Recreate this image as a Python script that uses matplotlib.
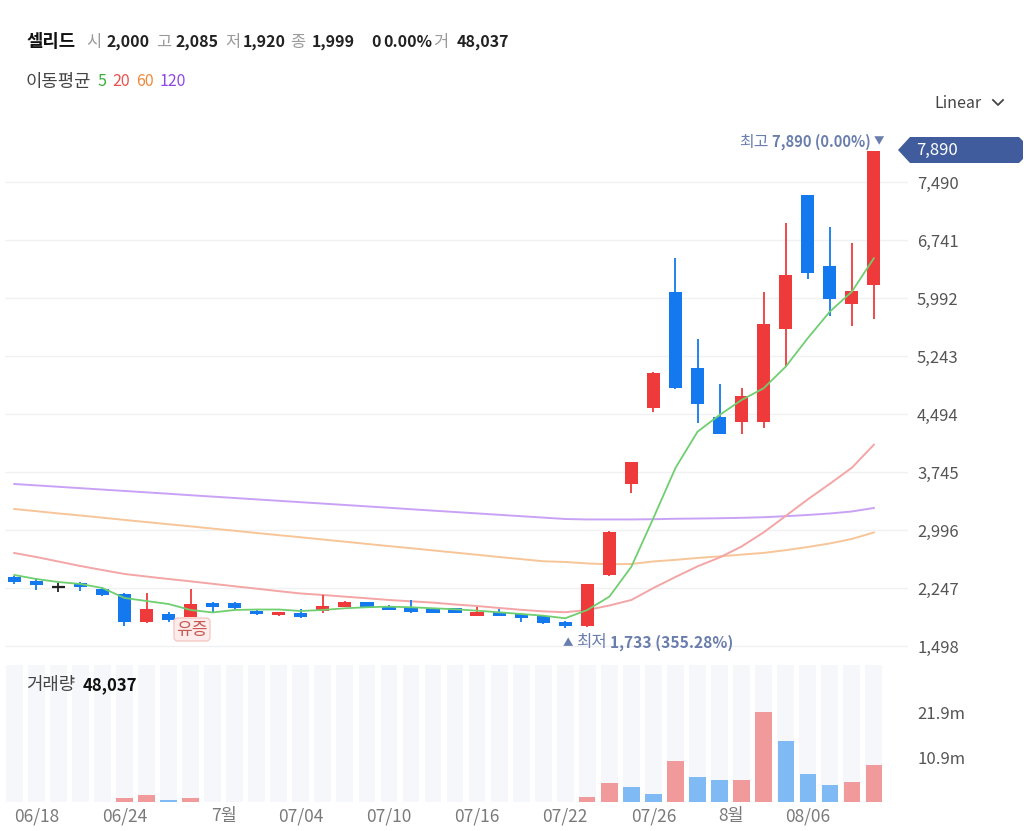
import matplotlib
matplotlib.use('Agg')
import matplotlib.pyplot as plt
from matplotlib.patches import Rectangle, Polygon, FancyBboxPatch

plt.rcParams['font.family'] = ['Noto Sans CJK KR', 'DejaVu Sans']

dates = ['06/17', '06/18', '06/19', '06/20', '06/21', '06/24', '06/25', '06/26', '06/27', '06/28',
         '07/01', '07/02', '07/03', '07/04', '07/05', '07/08', '07/09', '07/10', '07/11', '07/12',
         '07/15', '07/16', '07/17', '07/18', '07/19', '07/22', '07/23', '07/24', '07/25', '07/26',
         '07/29', '07/30', '07/31', '08/01', '08/02', '08/05', '08/06', '08/07', '08/08', '08/09']
opens = [2395, 2340, 2265, 2315, 2235, 2165, 1810, 1905, 1875, 2055, 2055, 1955, 1895, 1930, 1955,
         2005, 2060, 2020, 2005, 1985, 1985, 1885, 1940, 1905, 1885, 1810, 1755, 2415, 3585, 4570,
         6075, 5085, 4450, 4395, 4390, 5590, 7320, 6405, 5920, 6155]
highs = [2400, 2380, 2310, 2318, 2260, 2180, 2185, 1940, 2230, 2060, 2060, 1975, 1940, 1970, 2150,
         2085, 2070, 2025, 2090, 1990, 1990, 2000, 1970, 1910, 1890, 1815, 2300, 2980, 3875, 5030,
         6505, 5460, 4880, 4835, 6075, 6960, 7325, 6910, 6700, 7890]
lows = [2300, 2220, 2195, 2208, 2145, 1755, 1790, 1805, 1870, 1935, 1960, 1895, 1890, 1865, 1925,
        2000, 2000, 1960, 1920, 1920, 1925, 1880, 1880, 1810, 1785, 1733, 1740, 2400, 3480, 4525,
        4815, 4380, 4230, 4235, 4315, 5095, 6235, 5760, 5635, 5725]
closes = [2320, 2285, 2265, 2265, 2150, 1805, 1970, 1835, 2035, 2005, 1985, 1910, 1935, 1875, 2020,
          2060, 2005, 1965, 1940, 1930, 1930, 1940, 1885, 1855, 1790, 1755, 2295, 2975, 3870, 5025,
          4835, 4625, 4235, 4730, 5650, 6290, 6310, 5980, 6080, 7890]
volumes_m = [0.012, 0.010, 0.008, 0.010, 0.012, 0.81, 1.61, 0.35, 0.81, 0.012, 0.010, 0.008, 0.011,
             0.010, 0.012, 0.011, 0.010, 0.008, 0.010, 0.008, 0.011, 0.010, 0.008, 0.010, 0.011,
             0.012, 1.2, 4.47, 3.64, 1.86, 10.0, 5.94, 5.28, 5.30, 21.97, 14.8, 6.75, 4.06, 4.79, 8.87]
ma5 = [2415, 2363, 2324, 2299, 2247, 2118, 2079, 2040, 1963, 1931, 1963, 1969, 1969, 1950, 1963,
       1985, 1998, 2006, 1998, 1985, 1972, 1954, 1933, 1911, 1889, 1856, 1963, 2135, 2522, 3151,
       3797, 4265, 4481, 4675, 4826, 5105, 5472, 5815, 6073, 6505]
ma20 = [2699, 2647, 2589, 2531, 2479, 2428, 2395, 2363, 2333, 2301, 2269, 2238, 2206, 2176, 2157,
        2135, 2114, 2092, 2075, 2058, 2034, 2014, 1989, 1965, 1945, 1934, 1963, 2021, 2092, 2247,
        2389, 2526, 2641, 2783, 2965, 3177, 3391, 3592, 3799, 4097]
ma60 = [3267, 3239, 3210, 3183, 3155, 3126, 3098, 3070, 3043, 3014, 2986, 2957, 2929, 2902, 2873,
        2845, 2816, 2788, 2761, 2732, 2704, 2676, 2647, 2620, 2592, 2583, 2564, 2553, 2557, 2590,
        2610, 2635, 2655, 2678, 2700, 2735, 2776, 2822, 2880, 2964]
ma120 = [3590, 3572, 3554, 3536, 3518, 3500, 3482, 3464, 3445, 3427, 3409, 3391, 3373, 3355, 3337,
         3319, 3301, 3283, 3264, 3246, 3228, 3210, 3192, 3174, 3156, 3138, 3132, 3132, 3132, 3135,
         3141, 3144, 3148, 3153, 3161, 3174, 3190, 3209, 3235, 3280]
price_ticks = [1498, 2247, 2996, 3745, 4494, 5243, 5992, 6741, 7490]
vol_ticks = [10.9, 21.9]
x_tick_pos = [1, 5, 9.5, 13, 17, 21, 25, 29, 32.5, 36]
x_tick_labels = ['06/18', '06/24', '7월', '07/04', '07/10', '07/16', '07/22', '07/26', '8월', '08/06']

RED = '#ef3a3c'
BLUE = '#1479ee'
VRED = '#f09a9b'
VBLUE = '#80baf5'

W, H = 1026, 831
fig = plt.figure(figsize=(W / 100, H / 100), dpi=100)
fig.patch.set_facecolor('white')


def rect(l, t, r, b):
    return [l / W, 1 - b / H, (r - l) / W, (b - t) / H]


ax = fig.add_axes(rect(5, 125, 908, 660))
vax = fig.add_axes(rect(5, 665, 908, 801.6))
n = len(dates)
xs = list(range(n))

for a in (ax, vax):
    for s in a.spines.values():
        s.set_visible(False)
    a.set_xlim(-0.42, 40.55)
    a.set_facecolor('none')

ax.set_ylim(1317, 8226)
vax.set_ylim(0, 33.4)

# grid & ticks
ax.yaxis.tick_right()
ax.set_yticks(price_ticks)
ax.set_yticklabels([f'{v:,}' for v in price_ticks])
ax.tick_params(axis='y', length=0, pad=6.5, labelsize=12, labelcolor='#555555')
ax.set_xticks([])
ax.grid(axis='y', color='#f1f1f3', lw=1)
ax.set_axisbelow(True)

# moving averages
ax.plot(xs, ma120, color='#c9a2f6', lw=1.4, zorder=2)
ax.plot(xs, ma60, color='#f7c598', lw=1.4, zorder=2)
ax.plot(xs, ma20, color='#f4a5a6', lw=1.4, zorder=2)

# candles
bw = 0.60
for i in xs:
    o, h, l, c = opens[i], highs[i], lows[i], closes[i]
    if c > o:
        col = RED
    elif c < o:
        col = BLUE
    else:
        col = '#222222'
    ax.vlines(i, l, h, color=col, lw=1.3, zorder=3)
    if c == o:
        ax.hlines(o, i - bw / 2, i + bw / 2, color=col, lw=1.6, zorder=3)
    else:
        ax.add_patch(Rectangle((i - bw / 2, min(o, c)), bw, abs(c - o), facecolor=col,
                               edgecolor='none', zorder=3))

ax.plot(xs, ma5, color='#6fcf6f', lw=1.3, zorder=4)

# volume
vax.bar(xs, [33.4] * n, width=0.76, color='#f5f7fb', zorder=1)
vcols = []
for i in xs:
    if i == 0 or volumes_m[i] >= volumes_m[i - 1]:
        vcols.append(VRED)
    else:
        vcols.append(VBLUE)
vax.bar(xs, volumes_m, width=0.74, color=vcols, zorder=2)
vax.yaxis.tick_right()
vax.set_yticks(vol_ticks)
vax.set_yticklabels([f'{v}m' for v in vol_ticks])
vax.tick_params(axis='y', length=0, pad=6.5, labelsize=12, labelcolor='#555555')
vax.set_xticks(x_tick_pos)
vax.set_xticklabels(x_tick_labels)
vax.tick_params(axis='x', length=0, pad=4, labelsize=12.5, labelcolor='#7a7a7a')

# overlay for texts
ov = fig.add_axes([0, 0, 1, 1])
ov.set_xlim(0, W)
ov.set_ylim(H, 0)
ov.axis('off')


def T(x, y, s, size=11.5, color='#222222', weight='normal', ha='left', **kw):
    ov.text(x, y, s, fontsize=size, color=color, fontweight=weight, ha=ha, va='center', **kw)


HS = 12.8  # hangul word size
HC = 11.8  # single hangul char size
hy = 42
T(26, hy, '셀리드', weight='bold', color='#111111', size=HS)
T(86, hy, '시', color='#9a9a9a', size=HC)
T(106.5, hy, '2,000', weight='bold')
T(156, hy, '고', color='#9a9a9a', size=HC)
T(175, hy, '2,085', weight='bold')
T(225, hy, '저', color='#9a9a9a', size=HC)
T(242.5, hy, '1,920', weight='bold')
T(290.5, hy, '종', color='#9a9a9a', size=HC)
T(311.5, hy, '1,999', weight='bold')
T(371.5, hy, '0', weight='bold')
T(383, hy, '0.00%', weight='bold')
T(433, hy, '거', color='#9a9a9a', size=HC)
T(456.5, hy, '48,037', weight='bold')

my = 82
T(26, my, '이동평균', color='#444444', size=HS)
T(98, my, '5', color='#3fae3f')
T(112.5, my, '20', color='#e8524f')
T(136, my, '60', color='#ef8838')
T(160, my, '120', color='#9048e4')

T(934, 103, 'Linear', color='#444444', size=11.5)
ov.plot([993, 998, 1003], [100, 105, 100], color='#444444', lw=1.3)

# last price tag
ov.add_patch(Polygon([(898, 150), (910, 137), (1019, 137), (1023, 141), (1023, 159),
                      (1019, 163), (910, 163)], closed=True, facecolor='#415c9c', edgecolor='none'))
T(916, 150, f'{closes[-1]:,}', color='white', size=12)

SL = '#6a7eae'
T(739, 142, '최고', color=SL, size=11.5)
T(771.5, 142, f'{max(highs):,} (0.00%)', color=SL, size=10.6, weight='bold')
T(874, 141, '▼', color=SL, size=7.5)

T(563, 643, '▲', color=SL, size=7.5)
T(576, 643, '최저', color=SL, size=12)
T(610, 643, f'{min(lows):,} (355.28%)', color=SL, size=11.2, weight='bold')

ov.add_patch(FancyBboxPatch((174, 618), 36, 23, boxstyle='round,pad=0,rounding_size=4',
                            facecolor='#fdeceb', edgecolor='#f4c9c5', lw=1))
T(192, 629.5, '유증', color='#c65a52', size=12.3, ha='center')

T(26.5, 685, '거래량', color='#444444', size=HS)
T(83, 685, '48,037', color='#111111', size=12, weight='bold')

fig.savefig('out.png', dpi=100, facecolor='white')
